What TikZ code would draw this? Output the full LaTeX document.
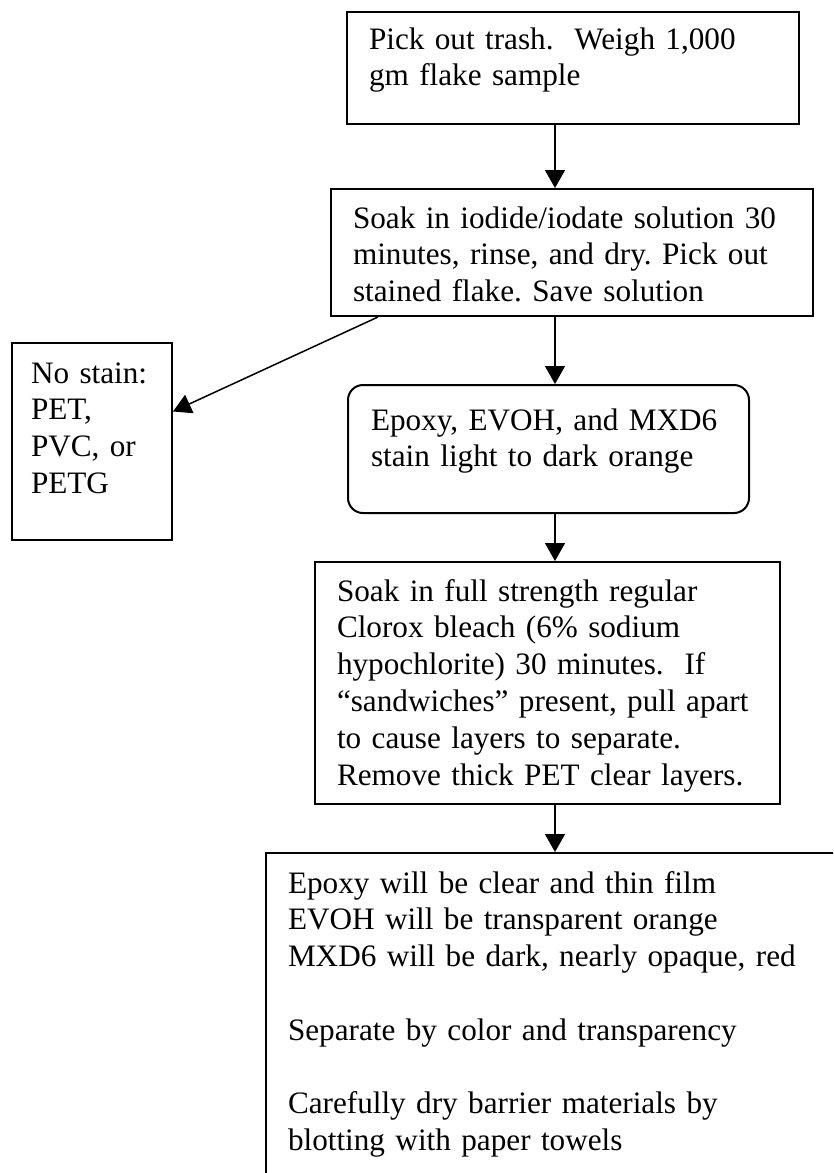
\documentclass[tikz,border=0pt]{standalone}
\usepackage{fontspec}
\setmainfont{Liberation Serif}
\usetikzlibrary{positioning,shapes,arrows.meta}
\tikzstyle{stepbox} = [draw, rectangle, line width=2pt, align=left, anchor=north west, inner xsep=22pt, inner ysep=0pt, font=\fontsize{31.2pt}{36.8pt}\selectfont\frenchspacing]
\tikzstyle{roundbox} = [stepbox, rounded corners=15pt, inner xsep=23pt]
\tikzstyle{line} = [draw, line width=1.5pt, -{Triangle[length=18pt,width=20pt]}]

\begin{document}
\begin{tikzpicture}[x=1pt, y=-1pt]
    \useasboundingbox (0,0) rectangle (833,1173);
    \clip (0,0) rectangle (833,1173);

    % Place nodes
    \node [stepbox, text width=408pt, text height=37pt, text depth=75pt] (trash) at (346,11) {Pick out trash.\ \ Weigh 1,000\\gm flake sample};
    \node [stepbox, text width=438pt, text height=39pt, text depth=88pt] (soak) at (330,188) {Soak in iodide/iodate solution 30\\minutes, rinse, and dry. Pick out\\stained flake. Save solution};
    \node [stepbox, inner xsep=19pt, text width=122pt, text height=40pt, text depth=157pt] (nostain) at (11,342) {No stain:\\PET,\\PVC, or\\PETG};
    \node [roundbox, text width=355pt, text height=45pt, text depth=83pt] (stain) at (347,384) {Epoxy, EVOH, and MXD6\\stain light to dark orange};
    \node [stepbox, text width=421pt, text height=39pt, text depth=203pt] (bleach) at (314,561) {Soak in full strength regular\\Clorox bleach (6\% sodium\\hypochlorite) 30 minutes.\ \ If\\``sandwiches'' present, pull apart\\to cause layers to separate.\\Remove thick PET clear layers.};
    \node [stepbox, text width=541pt, text height=40pt, text depth=340pt] (result) at (265,852) {Epoxy will be clear and thin film\\EVOH will be transparent orange\\MXD6 will be dark, nearly opaque, red\\[36.8pt]Separate by color and transparency\\[36.8pt]Carefully dry barrier materials by\\blotting with paper towels};
    \coordinate (spine) at (555,0);

    % Draw edges
    \path [line] (trash.south -| spine) -- (soak.north -| spine);
    \path [line] (soak.south -| spine) -- (stain.north -| spine);
    \path [line] ([xshift=48pt]soak.south west) -- ([yshift=30pt]nostain.east);
    \path [line] (stain.south -| spine) -- (bleach.north -| spine);
    \path [line] (bleach.south -| spine) -- (result.north -| spine);
\end{tikzpicture}
\end{document}
